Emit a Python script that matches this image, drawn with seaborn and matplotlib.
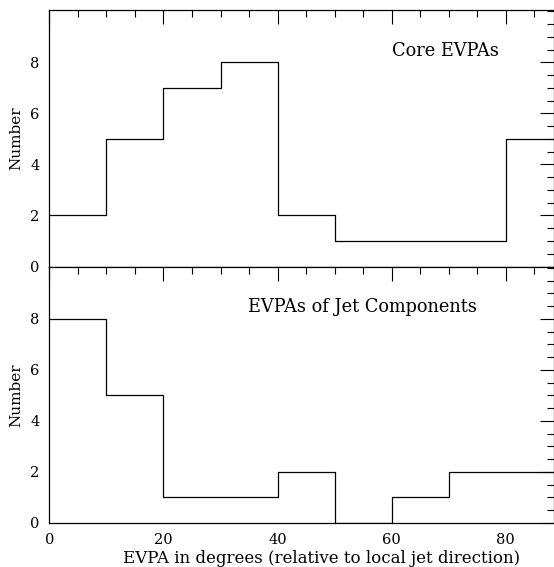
import numpy as np
import pandas as pd
import matplotlib
matplotlib.use("Agg")
import matplotlib.pyplot as plt
from matplotlib.ticker import MultipleLocator, FixedLocator
import seaborn as sns

bin_edges = [0, 10, 20, 30, 40, 50, 60, 70, 80, 90]
core_counts = [2, 5, 7, 8, 2, 1, 1, 1, 5]
jet_counts = [8, 5, 1, 1, 2, 0, 1, 2, 2]
core_title = "Core EVPAs"
jet_title = "EVPAs of Jet Components"
x_label = "EVPA in degrees (relative to local jet direction)"
y_label = "Number"

sns.set_style("white")
plt.rcParams['font.family'] = ['DejaVu Serif']
plt.rcParams['text.color'] = 'black'
plt.rcParams['axes.labelcolor'] = 'black'
plt.rcParams['xtick.color'] = 'black'
plt.rcParams['ytick.color'] = 'black'

fig = plt.figure(figsize=(5.54, 5.67), dpi=100)
left, right = 49.3 / 554, 553.5 / 554
top_y, mid_y, bot_y = 1 - 10 / 567, 1 - 266.5 / 567, 1 - 523 / 567
ax1 = fig.add_axes([left, mid_y, right - left, top_y - mid_y])
ax2 = fig.add_axes([left, bot_y, right - left, mid_y - bot_y])

centers = [(a + b) / 2 for a, b in zip(bin_edges[:-1], bin_edges[1:])]
df_core = pd.DataFrame({"x": centers, "w": core_counts})
df_jet = pd.DataFrame({"x": centers, "w": jet_counts})

for ax, df, title, tx, ty in [(ax1, df_core, core_title, 392, 1 - (55.5 - 10) / 256.5),
                              (ax2, df_jet, jet_title, 248, 1 - (312 - 266.5) / 256.5)]:
    sns.histplot(data=df, x="x", weights="w", bins=bin_edges, element="step",
                 fill=False, color="black", linewidth=0.9, ax=ax)
    ax.set_xlim(0, 88.35)
    ax.set_ylim(0, 10.05)
    ax.xaxis.set_major_locator(MultipleLocator(20))
    ax.xaxis.set_minor_locator(MultipleLocator(5))
    ax.yaxis.set_major_locator(FixedLocator([0, 2, 4, 6, 8]))
    ax.yaxis.set_minor_locator(MultipleLocator(0.5))
    ax.tick_params(which='both', direction='in', top=True, right=True, width=0.8,
                   color='black', labelcolor='black')
    ax.tick_params(which='major', length=10, labelsize=10.5, pad=7)
    ax.tick_params(which='minor', length=5)
    for s in ax.spines.values():
        s.set_color('black')
        s.set_linewidth(0.9)
    ax.set_ylabel(y_label, fontsize=11, labelpad=5, color='black')
    ax.text((tx - 49.3) / 5.709, ty, title, fontsize=12.8, ha='left', va='baseline',
            color='black', transform=ax.get_xaxis_transform())
    ax.grid(False)

ax1.set_xlabel("")
ax1.tick_params(labelbottom=False)
ax2.set_xlabel(x_label, fontsize=12, color='black', va='baseline', ha='center')
ax2.xaxis.set_label_coords((322 - 49.3) / (553.5 - 49.3), -(563 - 523) / 256.5)

fig.savefig("out.png", dpi=100)
